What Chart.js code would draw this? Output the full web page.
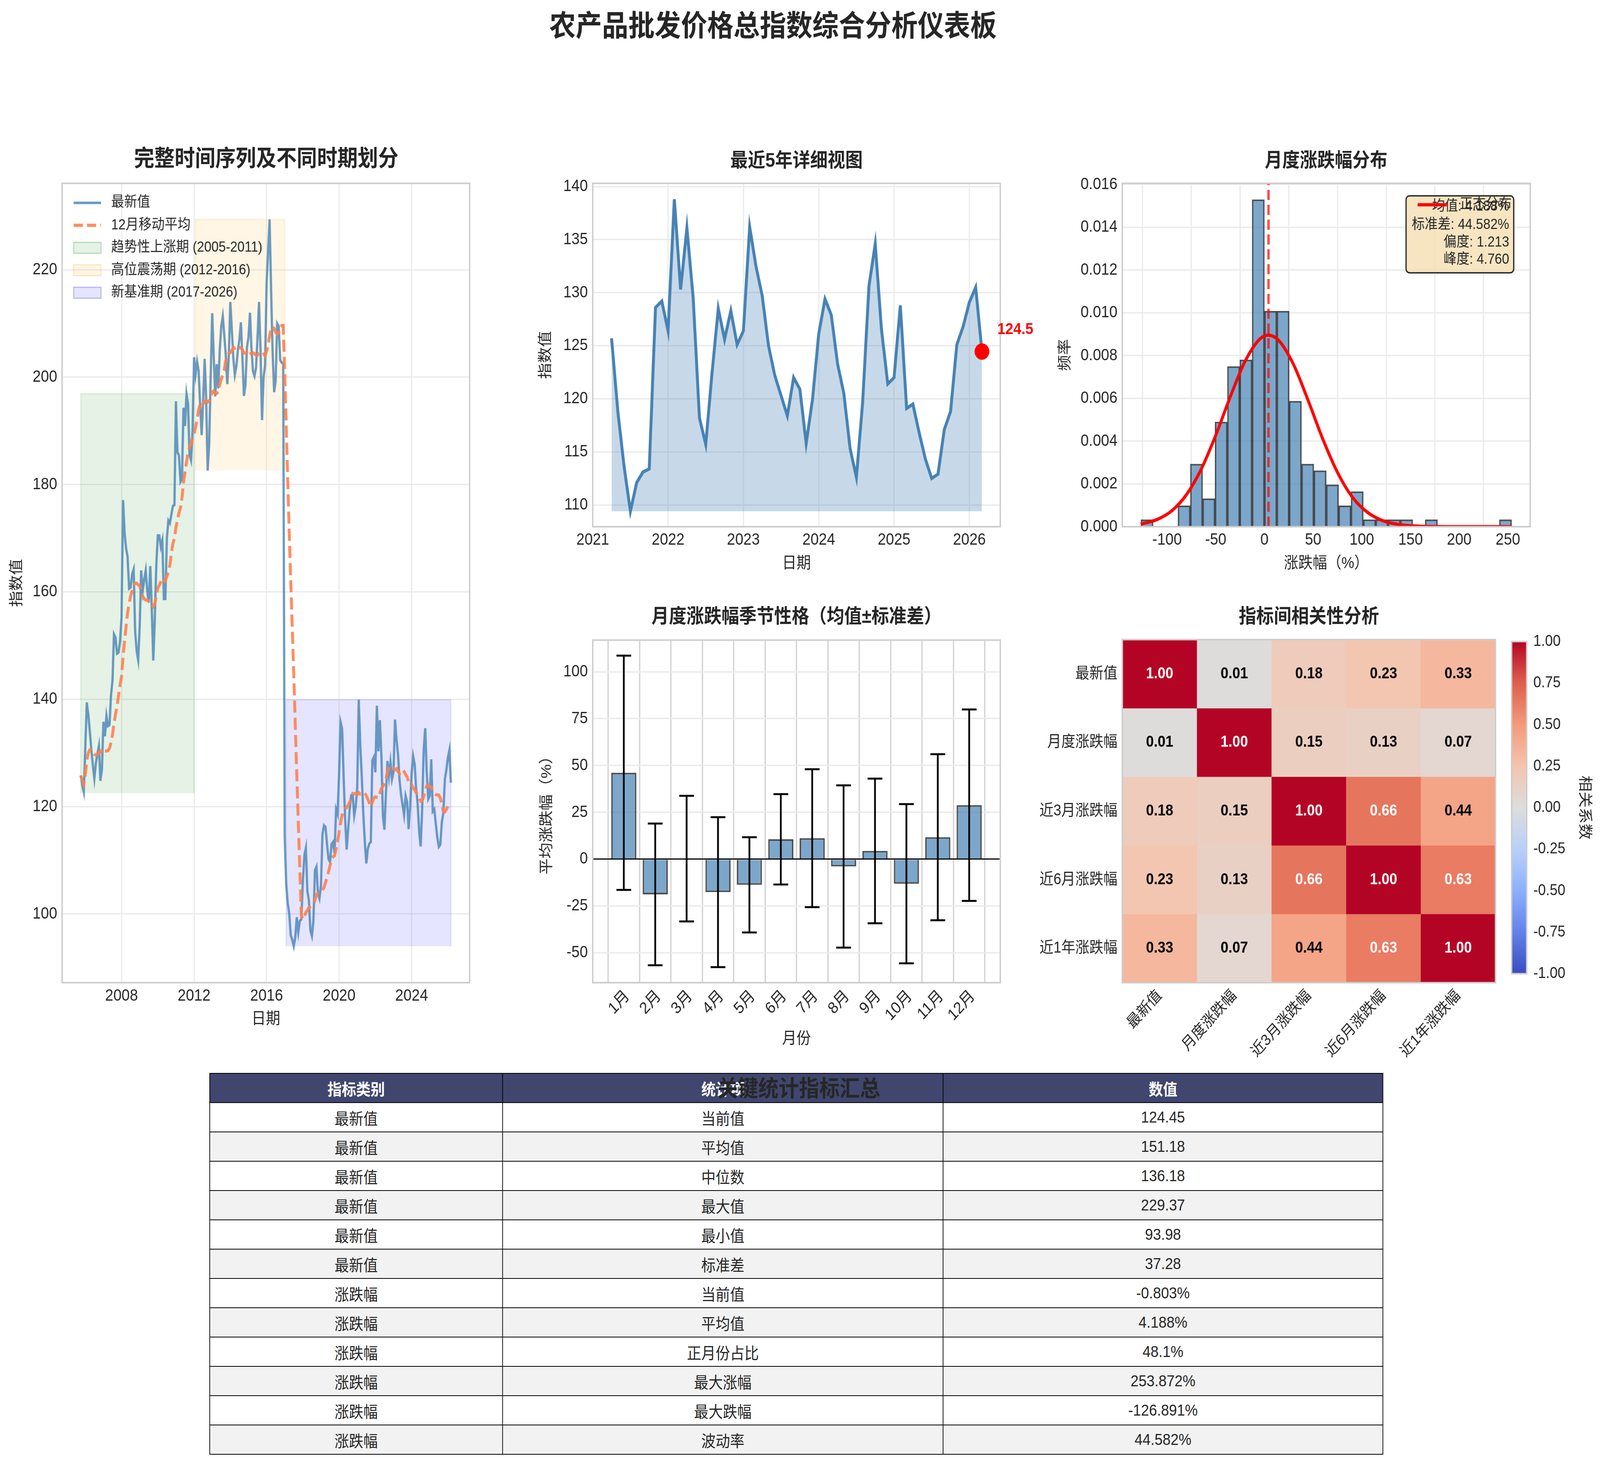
<!DOCTYPE html>
<html lang="zh-CN">
<head>
<meta charset="UTF-8">
<title>农产品批发价格总指数综合分析仪表板</title>
<script src="https://cdn.jsdelivr.net/npm/chart.js@4.4.1/dist/chart.umd.min.js"></script>
<style>
  html, body { margin: 0; padding: 0; background: #fff; overflow: hidden; }
  #wrap { position: relative; overflow: hidden; width: 4562px; height: 3752px; }
  #page { position: absolute; left: 0; top: 0; width: 4562px; height: 3752px; background: #fff; transform-origin: 0 0;
          font-family: 'Liberation Sans', 'Noto Sans CJK SC', sans-serif; color: #262626; }
  canvas { position: absolute; }
  .ttl { position: absolute; font-weight: bold; white-space: nowrap; line-height: 1; transform: translate(-50%, -50%); z-index: 5; }
  #stats { position: absolute; left: 597px; top: 2746px; width: 3345px; border-collapse: collapse; table-layout: fixed; font-size: 41px; }
  #stats th, #stats td { border: 2.5px solid #000; height: 73px; padding: 0; text-align: center; }
  #stats th { background: #40466e; color: #fff; font-weight: bold; }
  #stats tbody tr:nth-child(even) td { background: #f2f2f2; }
</style>
</head>
<body>
<div id="wrap">
<div id="page">
  <div class="ttl" style="left:2204px; top:66px; font-size:75px;">农产品批发价格总指数综合分析仪表板</div>
  <div class="ttl" style="left:759px; top:405px; font-size:58px;">完整时间序列及不同时期划分</div>
  <div class="ttl" style="left:2271px; top:410px; font-size:50px;">最近5年详细视图</div>
  <div class="ttl" style="left:3781px; top:410px; font-size:50px;">月度涨跌幅分布</div>
  <div class="ttl" style="left:2271px; top:1577px; font-size:50px;">月度涨跌幅季节性格（均值±标准差）</div>
  <div class="ttl" style="left:3732px; top:1577px; font-size:50px;">指标间相关性分析</div>

  <canvas id="fullChart"></canvas>
  <canvas id="recentChart"></canvas>
  <canvas id="histChart"></canvas>
  <canvas id="seasonChart"></canvas>
  <canvas id="corrChart"></canvas>
  <canvas id="cbarChart"></canvas>

  <table id="stats">
    <colgroup><col style="width:835px"><col style="width:1256px"><col style="width:1254px"></colgroup>
    <thead><tr><th>指标类别</th><th>统计项</th><th>数值</th></tr></thead>
    <tbody></tbody>
  </table>
  <div class="ttl" style="left:2278px; top:2786px; font-size:58px;">关键统计指标汇总</div>
</div>
</div>

<script>
// ---- 数据 ----
// 月度指数（月末），2005-09 起，共 246 个月
const firstYear = 2005, firstMonth = 9;
const indexValues = [
  125.8, 124.0, 122.7, 131.0, 139.4, 137.1, 134.0, 130.6, 127.7, 125.2,
  128.1, 129.8, 131.3, 124.8, 126.9, 135.8, 133.1, 136.9, 135.0, 135.2,
  140.6, 143.5, 152.1, 151.5, 148.5, 148.7, 150.8, 155.2, 177.1, 171.0,
  168.1, 166.5, 160.6, 160.8, 163.3, 164.2, 152.7, 149.0, 147.3, 153.5,
  164.0, 160.2, 162.3, 164.0, 160.2, 158.1, 164.8, 157.0, 147.2, 155.0,
  165.0, 170.5, 170.5, 168.4, 169.6, 158.7, 158.7, 170.0, 173.3, 172.8,
  174.5, 176.0, 176.2, 195.5, 186.0, 185.4, 180.5, 181.0, 194.3, 190.9,
  196.9, 195.0, 185.5, 184.5, 190.0, 203.7, 200.5, 202.9, 201.2, 195.0,
  189.2, 195.5, 203.4, 196.0, 182.6, 187.5, 200.0, 211.9, 204.0, 196.4,
  202.4, 197.9, 205.0, 209.5, 211.3, 207.8, 204.0, 198.7, 204.0, 214.0,
  208.8, 203.5, 200.4, 202.0, 205.0, 207.0, 210.2, 203.7, 196.5, 198.5,
  205.5, 207.4, 212.0, 205.3, 201.1, 200.2, 201.7, 207.3, 214.0, 204.8,
  192.0, 200.0, 202.2, 217.5, 223.4, 229.37, 216.0, 204.6, 197.2, 199.3,
  210.0, 209.5, 203.2, 202.7, 202.5, 114.4, 105.5, 102.0, 100.0, 96.0,
  95.2, 93.98, 95.7, 99.4, 96.6, 98.7, 99.0, 106.0, 110.9, 112.3,
  104.3, 102.5, 96.9, 95.9, 98.7, 108.1, 108.8, 103.9, 102.9, 105.3,
  114.9, 116.5, 116.2, 113.0, 110.2, 109.7, 113.0, 113.4, 111.3, 119.5,
  118.6, 126.3, 135.7, 134.5, 125.6, 117.6, 112.0, 115.8, 119.5, 122.1,
  122.1, 118.3, 120.0, 123.5, 139.9, 131.5,
  125.7, 118.8, 113.6, 109.4, 112.1, 113.1, 113.4, 128.6, 129.2, 126.4,
  138.8, 130.3, 136.1, 129.5, 118.2, 115.7, 122.4, 128.5, 125.6, 128.3,
  125.1, 126.4, 136.2, 132.5, 129.7, 125.0, 122.2, 120.3, 118.4, 122.0,
  120.9, 115.8, 119.9, 126.1, 129.4, 127.9, 123.3, 120.5, 115.3, 112.6,
  119.7, 130.6, 134.6, 126.5, 121.4, 122.0, 128.8, 119.1, 119.5, 116.8,
  114.3, 112.5, 112.9, 117.1, 118.8, 125.1, 126.8, 129.1, 130.5, 124.45
];

// 时期划分 [起, 止, 最低, 最高]
const periodNames = ['趋势性上涨期 (2005-2011)', '高位震荡期 (2012-2016)', '新基准期 (2017-2026)'];
const periodSpans = [[2005.75, 2012.0, 122.5, 196.9], [2012.083, 2017.0, 182.6, 229.37], [2017.083, 2026.167, 93.98, 139.9]];

// 月度涨跌幅直方图（密度）
const binStart = -126.891, binWidth = 12.692;
const histDensity = [
  0.00033, 0, 0, 0.00098, 0.00293, 0.00131, 0.0049, 0.00749, 0.0078, 0.01529,
  0.01008, 0.01008, 0.00587, 0.00293, 0.00262, 0.00196, 0.00098, 0.00164, 0.00033, 0.00033,
  0.00033, 0.00033, 0, 0.00033, 0, 0, 0, 0, 0, 0.00033
];
const normX = [-127, -110, -95, -80, -65, -50, -35, -20, -5, 4, 15, 30, 45, 60, 75, 90, 105, 120, 140, 170, 210, 254];
const normY = [0.00012, 0.00034, 0.00075, 0.0015, 0.00268, 0.00427, 0.00608, 0.00772, 0.00876, 0.00895, 0.00869,
  0.00757, 0.00589, 0.00409, 0.00254, 0.0014, 0.0007, 0.00031, 0.00009, 0.00001, 0, 0];
const meanChange = 4.188;
const statLines = ['均值: 4.188%', '标准差: 44.582%', '偏度: 1.213', '峰度: 4.760'];

// 季节性
const monthLabels = ['1月', '2月', '3月', '4月', '5月', '6月', '7月', '8月', '9月', '10月', '11月', '12月'];
const monthMeans = [46.1, -18.8, 0.3, -17.6, -13.7, 10.6, 11.2, -3.9, 4.4, -13.1, 11.7, 28.8];
const monthStds = [62.5, 37.8, 33.5, 40.0, 25.4, 24.1, 36.8, 43.3, 38.6, 42.5, 44.3, 51.1];

// 相关系数
const corrLabels = ['最新值', '月度涨跌幅', '近3月涨跌幅', '近6月涨跌幅', '近1年涨跌幅'];
const corrMatrix = [
  [1.00, 0.01, 0.18, 0.23, 0.33],
  [0.01, 1.00, 0.15, 0.13, 0.07],
  [0.18, 0.15, 1.00, 0.66, 0.44],
  [0.23, 0.13, 0.66, 1.00, 0.63],
  [0.33, 0.07, 0.44, 0.63, 1.00]
];

// 统计表
const statCategory = ['最新值', '最新值', '最新值', '最新值', '最新值', '最新值', '涨跌幅', '涨跌幅', '涨跌幅', '涨跌幅', '涨跌幅', '涨跌幅'];
const statItem = ['当前值', '平均值', '中位数', '最大值', '最小值', '标准差', '当前值', '平均值', '正月份占比', '最大涨幅', '最大跌幅', '波动率'];
const statValue = ['124.45', '151.18', '136.18', '229.37', '93.98', '37.28', '-0.803%', '4.188%', '48.1%', '253.872%', '-126.891%', '44.582%'];

// ---- 页面缩放到窗口 ----
const PAGE_W = 4562, PAGE_H = 3752;
const sx = window.innerWidth / PAGE_W, sy = window.innerHeight / PAGE_H;
document.getElementById('page').style.transform = 'scale(' + sx + ',' + sy + ')';
document.getElementById('wrap').style.width = PAGE_W * sx + 'px';
document.getElementById('wrap').style.height = PAGE_H * sy + 'px';

// ---- 通用设置 ----
const FONT = "'Liberation Sans', 'Noto Sans CJK SC', sans-serif";
Chart.defaults.font.family = FONT;
Chart.defaults.font.size = 42;
Chart.defaults.color = '#262626';
Chart.defaults.animation = false;
Chart.defaults.events = [];
Chart.defaults.plugins.legend.display = false;
Chart.defaults.plugins.tooltip.enabled = false;

const lightGrid = { color: '#ebebeb', lineWidth: 3.5, drawTicks: false };

function place(id, left, top, width, height) {
  const c = document.getElementById(id);
  c.width = width; c.height = height;
  c.style.left = left + 'px'; c.style.top = top + 'px';
  c.style.width = width + 'px'; c.style.height = height + 'px';
  return c;
}
function fixW(w) { return s => { s.width = w; }; }
function fixH(h) { return s => { s.height = h; }; }
function setTicks(vals) { return s => { s.ticks = vals.map(v => ({ value: v })); }; }

const framePlugin = {
  id: 'frame',
  afterDraw(chart) {
    const { ctx, chartArea: a } = chart;
    ctx.save();
    ctx.strokeStyle = '#cccccc';
    ctx.lineWidth = 4;
    ctx.strokeRect(a.left, a.top, a.right - a.left, a.bottom - a.top);
    ctx.restore();
  }
};

const coolwarm = [[0, [59, 76, 192]], [0.125, [98, 130, 234]], [0.25, [141, 176, 254]], [0.375, [184, 208, 249]],
  [0.5, [221, 221, 221]], [0.625, [245, 196, 173]], [0.75, [244, 154, 123]], [0.875, [222, 96, 77]], [1, [180, 4, 38]]];
function cmap(v) {
  const t = Math.max(0, Math.min(1, (v + 1) / 2));
  for (let i = 1; i < coolwarm.length; i++) {
    if (t <= coolwarm[i][0]) {
      const [t0, c0] = coolwarm[i - 1], [t1, c1] = coolwarm[i];
      const f = (t - t0) / (t1 - t0);
      return 'rgb(' + c0.map((c, k) => Math.round(c + (c1[k] - c) * f)).join(',') + ')';
    }
  }
  return 'rgb(180,4,38)';
}

const monthX = indexValues.map((_, i) => firstYear + (firstMonth + i) / 12);

// 12月移动平均（min_periods=1）
const ma12 = indexValues.map((_, i) => {
  const s = indexValues.slice(Math.max(0, i - 11), i + 1);
  return s.reduce((a, b) => a + b, 0) / s.length;
});

// ---- 图1：完整时间序列 ----
const bandFill = ['rgba(0,128,0,0.1)', 'rgba(255,165,0,0.1)', 'rgba(0,0,255,0.1)'];
const bandEdge = ['rgba(0,128,0,0.12)', 'rgba(255,165,0,0.15)', 'rgba(0,0,255,0.12)'];
const bandLegendEdge = ['rgba(0,128,0,0.25)', 'rgba(255,165,0,0.25)', 'rgba(0,0,255,0.25)'];

const fullLegend = {
  id: 'fullLegend',
  afterDraw(chart) {
    const { ctx, chartArea: a } = chart;
    ctx.save();
    ctx.font = '37px ' + FONT;
    ctx.textBaseline = 'middle';
    const x0 = a.left + 33, x1 = a.left + 111, tx = a.left + 140;
    const labels = ['最新值', '12月移动平均'].concat(periodNames);
    labels.forEach((lab, i) => {
      const y = a.top + 50 + i * 57.5;
      if (i === 0) {
        ctx.strokeStyle = 'rgba(70,130,180,0.8)'; ctx.lineWidth = 6.5; ctx.setLineDash([]);
        ctx.beginPath(); ctx.moveTo(x0, y); ctx.lineTo(x1, y); ctx.stroke();
      } else if (i === 1) {
        ctx.strokeStyle = 'rgba(255,127,80,0.9)'; ctx.lineWidth = 8.3; ctx.setLineDash([26, 12]);
        ctx.beginPath(); ctx.moveTo(x0, y); ctx.lineTo(x1, y); ctx.stroke();
        ctx.setLineDash([]);
      } else {
        ctx.fillStyle = bandFill[i - 2];
        ctx.fillRect(x0, y - 14, x1 - x0, 28);
        ctx.strokeStyle = bandLegendEdge[i - 2]; ctx.lineWidth = 3;
        ctx.strokeRect(x0, y - 14, x1 - x0, 28);
      }
      ctx.fillStyle = '#262626';
      ctx.fillText(lab, tx, y);
    });
    ctx.restore();
  }
};

const bandSets = periodSpans.map((p, i) => ({
  type: 'line',
  data: [{ x: p[0], y: p[2] }, { x: p[0], y: p[3] }, { x: p[1], y: p[3] }, { x: p[1], y: p[2] }],
  borderColor: bandEdge[i], borderWidth: 3, backgroundColor: bandFill[i],
  fill: { value: p[2] }, pointRadius: 0, order: 3
}));

place('fullChart', 24, 430, 1335, 2203);
new Chart(document.getElementById('fullChart'), {
  type: 'line',
  data: {
    datasets: bandSets.concat([
      { data: monthX.map((x, i) => ({ x, y: indexValues[i] })), borderColor: 'rgba(70,130,180,0.8)',
        borderWidth: 6.5, pointRadius: 0, tension: 0, order: 2 },
      { data: monthX.map((x, i) => ({ x, y: ma12[i] })), borderColor: 'rgba(255,127,80,0.9)',
        borderWidth: 8.3, borderDash: [31, 13], pointRadius: 0, tension: 0, order: 1 }
    ])
  },
  options: {
    responsive: false, devicePixelRatio: 1,
    layout: { padding: { top: 20, right: 20, left: 0, bottom: 0 } },
    scales: {
      x: { type: 'linear', min: 2004.72, max: 2027.2, border: { display: false }, grid: lightGrid,
           afterBuildTicks: setTicks([2008, 2012, 2016, 2020, 2024]), afterFit: fixH(118),
           ticks: { padding: 9, callback: v => String(v) },
           title: { display: true, text: '日期', padding: 0, font: { size: 41 } } },
      y: { min: 87.2, max: 236.1, border: { display: false }, grid: lightGrid,
           afterBuildTicks: setTicks([100, 120, 140, 160, 180, 200, 220]), afterFit: fixW(153),
           ticks: { padding: 14, callback: v => String(v) },
           title: { display: true, text: '指数值', padding: 0, font: { size: 41 } } }
    }
  },
  plugins: [framePlugin, fullLegend]
});

// ---- 图2：最近5年 ----
const recentX = monthX.slice(-60);
const recentY = indexValues.slice(-60);
const recentBase = Math.min(...recentY);
const lastX = recentX[recentX.length - 1], lastY = recentY[recentY.length - 1];

const lastLabel = {
  id: 'lastLabel',
  afterDraw(chart) {
    const { ctx, scales: { x, y } } = chart;
    const px = x.getPixelForValue(lastX), py = y.getPixelForValue(lastY);
    ctx.save();
    ctx.font = 'bold 41px ' + FONT;
    ctx.fillStyle = 'red';
    ctx.textBaseline = 'middle';
    ctx.fillText(lastY.toFixed(1), px + 44, py - 56);
    ctx.restore();
  }
};

place('recentChart', 1532, 430, 1458, 1037);
new Chart(document.getElementById('recentChart'), {
  type: 'line',
  data: {
    datasets: [
      { data: [{ x: lastX, y: lastY }], showLine: false, pointRadius: 21, pointBackgroundColor: 'red',
        pointBorderWidth: 0, order: 0 },
      { data: recentX.map((x, i) => ({ x, y: recentY[i] })), borderColor: '#4682b4', borderWidth: 8.3,
        backgroundColor: 'rgba(70,130,180,0.3)', fill: { value: recentBase }, pointRadius: 0, tension: 0, order: 1 }
    ]
  },
  options: {
    responsive: false, devicePixelRatio: 1,
    layout: { padding: { top: 20, right: 138, left: 0, bottom: 0 } },
    scales: {
      x: { type: 'linear', min: 2021.0, max: 2026.41, border: { display: false }, grid: lightGrid,
           afterBuildTicks: setTicks([2021, 2022, 2023, 2024, 2025, 2026]), afterFit: fixH(119),
           ticks: { padding: 9, callback: v => String(v) },
           title: { display: true, text: '日期', padding: 0, font: { size: 41 } } },
      y: { min: 107.95, max: 140.3, border: { display: false }, grid: lightGrid,
           afterBuildTicks: setTicks([110, 115, 120, 125, 130, 135, 140]), afterFit: fixW(158),
           ticks: { padding: 14, callback: v => String(v) },
           title: { display: true, text: '指数值', padding: 0, font: { size: 41 } } }
    }
  },
  plugins: [framePlugin, lastLabel]
});

// ---- 图3：涨跌幅分布 ----
const histOverlay = {
  id: 'histOverlay',
  afterDraw(chart) {
    const { ctx, chartArea: a } = chart;
    ctx.save();
    // 统计信息框
    const bx = a.right - 354, by = a.top + 32, bw = 307, bh = 197;
    ctx.fillStyle = 'rgba(245,222,179,0.8)';
    ctx.strokeStyle = '#262626';
    ctx.lineWidth = 3.5;
    ctx.beginPath();
    ctx.roundRect(bx, by, bw, bh, 10);
    ctx.fill(); ctx.stroke();
    ctx.font = '37px ' + FONT;
    ctx.fillStyle = '#262626';
    ctx.textAlign = 'right';
    ctx.textBaseline = 'middle';
    [28, 75, 120, 164].forEach((dy, i) => ctx.fillText(statLines[i], bx + bw - 13, by + dy));
    // 图例
    const ly = a.top + 55;
    ctx.strokeStyle = 'red'; ctx.lineWidth = 8.3;
    ctx.beginPath(); ctx.moveTo(a.right - 321, ly); ctx.lineTo(a.right - 238, ly); ctx.stroke();
    ctx.textAlign = 'left';
    ctx.fillStyle = '#262626';
    ctx.fillText('正态分布', a.right - 201, ly);
    ctx.restore();
  }
};

place('histChart', 3013, 430, 1370, 1037);
new Chart(document.getElementById('histChart'), {
  type: 'bar',
  data: {
    datasets: [
      { type: 'line', data: normX.map((x, i) => ({ x, y: normY[i] })), borderColor: 'red', borderWidth: 8.3,
        pointRadius: 0, cubicInterpolationMode: 'monotone', order: 1 },
      { type: 'line', data: [{ x: meanChange, y: 0 }, { x: meanChange, y: 0.01605 }], borderColor: 'rgba(255,0,0,0.7)',
        borderWidth: 7, borderDash: [26, 12], pointRadius: 0, order: 0 },
      { type: 'bar', data: histDensity.map((d, i) => ({ x: binStart + binWidth * (i + 0.5), y: d })),
        backgroundColor: 'rgba(70,130,180,0.7)', borderColor: 'rgba(0,0,0,0.7)', borderWidth: 3.5,
        barPercentage: 1, categoryPercentage: 1, grouped: false, order: 2 }
    ]
  },
  options: {
    responsive: false, devicePixelRatio: 1,
    layout: { padding: { top: 20, right: 20, left: 0, bottom: 0 } },
    scales: {
      x: { type: 'linear', offset: false, min: -145.9, max: 272.9, border: { display: false }, grid: lightGrid,
           afterBuildTicks: setTicks([-100, -50, 0, 50, 100, 150, 200, 250]), afterFit: fixH(119),
           ticks: { padding: 9, callback: v => String(v) },
           title: { display: true, text: '涨跌幅（%）', padding: 0, font: { size: 41 } } },
      y: { min: 0, max: 0.01605, border: { display: false }, grid: lightGrid,
           afterBuildTicks: setTicks([0, 0.002, 0.004, 0.006, 0.008, 0.010, 0.012, 0.014, 0.016]), afterFit: fixW(187),
           ticks: { padding: 14, callback: v => v.toFixed(3) },
           title: { display: true, text: '频率', padding: 0, font: { size: 41 } } }
    }
  },
  plugins: [framePlugin, histOverlay]
});

// ---- 图4：季节性 ----
const errorBars = {
  id: 'errorBars',
  afterDatasetsDraw(chart) {
    const { ctx, scales: { x, y } } = chart;
    ctx.save();
    ctx.strokeStyle = '#000';
    ctx.lineWidth = 5;
    monthMeans.forEach((m, i) => {
      const px = x.getPixelForValue(i);
      const top = y.getPixelForValue(m + monthStds[i]);
      const bot = y.getPixelForValue(m - monthStds[i]);
      ctx.beginPath();
      ctx.moveTo(px, top); ctx.lineTo(px, bot);
      ctx.moveTo(px - 21, top); ctx.lineTo(px + 21, top);
      ctx.moveTo(px - 21, bot); ctx.lineTo(px + 21, bot);
      ctx.stroke();
    });
    ctx.restore();
  }
};

place('seasonChart', 1535, 1599, 1337, 1085);
new Chart(document.getElementById('seasonChart'), {
  type: 'bar',
  data: {
    datasets: [{ data: monthMeans.map((m, i) => ({ x: i, y: m })), backgroundColor: 'rgba(70,130,180,0.7)',
                 borderColor: 'rgba(0,0,0,0.7)', borderWidth: 4, barPercentage: 0.8, categoryPercentage: 1 }]
  },
  options: {
    responsive: false, devicePixelRatio: 1,
    layout: { padding: { top: 20, right: 20, left: 0, bottom: 0 } },
    scales: {
      x: { type: 'linear', offset: false, min: -0.99, max: 11.99, border: { display: false },
           grid: { color: '#d0d0d0', lineWidth: 3.5, drawTicks: false },
           afterBuildTicks: setTicks(monthLabels.map((_, i) => i)), afterFit: fixH(169),
           ticks: { padding: 10, minRotation: 45, maxRotation: 45, autoSkip: false, labelOffset: 10,
                    callback: v => monthLabels[v] },
           title: { display: true, text: '月份', padding: 0, font: { size: 41 } } },
      y: { min: -65.9, max: 116.9, border: { display: false },
           grid: { drawTicks: false, color: c => (c.tick && c.tick.value === 0 ? '#000' : '#ebebeb'),
                   lineWidth: c => (c.tick && c.tick.value === 0 ? 3 : 3.5) },
           afterBuildTicks: setTicks([-50, -25, 0, 25, 50, 75, 100]), afterFit: fixW(155),
           ticks: { padding: 14, callback: v => String(v) },
           title: { display: true, text: '平均涨跌幅（%）', padding: 0, font: { size: 41 } } }
    }
  },
  plugins: [framePlugin, errorBars]
});

// ---- 图5：相关性热力图 ----
const cellText = {
  id: 'cellText',
  afterDraw(chart) {
    const { ctx, scales: { x, y } } = chart;
    ctx.save();
    ctx.font = 'bold 40px ' + FONT;
    ctx.textAlign = 'center';
    ctx.textBaseline = 'middle';
    corrMatrix.forEach((row, r) => row.forEach((v, c) => {
      ctx.fillStyle = Math.abs(v) > 0.5 ? '#fff' : '#000';
      ctx.fillText(v.toFixed(2), x.getPixelForValue(c), y.getPixelForValue(r + 0.5));
    }));
    ctx.restore();
  }
};

place('corrChart', 2900, 1599, 1384, 1131);
new Chart(document.getElementById('corrChart'), {
  type: 'bar',
  data: {
    labels: corrLabels,
    datasets: corrMatrix.map((row, r) => ({
      data: row.map(() => [r, r + 1]),
      backgroundColor: row.map(v => cmap(v)),
      borderColor: row.map(v => cmap(v)),
      borderWidth: 1, borderSkipped: false,
      barPercentage: 1, categoryPercentage: 1, grouped: false
    }))
  },
  options: {
    responsive: false, devicePixelRatio: 1,
    layout: { padding: { top: 20, right: 20, left: 0, bottom: 0 } },
    scales: {
      x: { z: 1, border: { display: false }, grid: { color: '#cccccc', lineWidth: 3.5, drawTicks: false, offset: false },
           afterFit: fixH(215),
           ticks: { padding: 10, minRotation: 45, maxRotation: 45, autoSkip: false, font: { size: 40 } } },
      y: { z: 1, min: 0, max: 5, reverse: true, border: { display: false },
           grid: { color: '#cccccc', lineWidth: 3.5, drawTicks: false },
           afterBuildTicks: setTicks([0.5, 1.5, 2.5, 3.5, 4.5]), afterFit: fixW(300),
           ticks: { padding: 14, font: { size: 40 }, callback: v => corrLabels[Math.floor(v)] } }
    }
  },
  plugins: [framePlugin, cellText]
});

// ---- 色条 ----
place('cbarChart', 4300, 1599, 242, 936);
new Chart(document.getElementById('cbarChart'), {
  type: 'bar',
  data: {
    labels: [''],
    datasets: [{
      data: [[-1, 1]], barPercentage: 1, categoryPercentage: 1, borderWidth: 0,
      backgroundColor: c => {
        const a = c.chart.chartArea;
        if (!a) return 'rgba(0,0,0,0)';
        const g = c.chart.ctx.createLinearGradient(0, a.bottom, 0, a.top);
        coolwarm.forEach(([t, rgb]) => g.addColorStop(t, 'rgb(' + rgb.join(',') + ')'));
        return g;
      }
    }]
  },
  options: {
    responsive: false, devicePixelRatio: 1,
    layout: { padding: { top: 20, right: 0, left: 10, bottom: 20 } },
    scales: {
      x: { display: false },
      y: { position: 'right', min: -1, max: 1, border: { display: false }, grid: { display: false, drawTicks: false },
           afterBuildTicks: setTicks([-1, -0.75, -0.5, -0.25, 0, 0.25, 0.5, 0.75, 1]), afterFit: fixW(189),
           ticks: { padding: 19, font: { size: 40 }, callback: v => v.toFixed(2) },
           title: { display: true, text: '相关系数', padding: 0, font: { size: 41 } } }
    }
  },
  plugins: [framePlugin]
});

// ---- 统计表 ----
const tbody = document.querySelector('#stats tbody');
statCategory.forEach((cat, i) => {
  const tr = document.createElement('tr');
  [cat, statItem[i], statValue[i]].forEach(t => {
    const td = document.createElement('td');
    td.textContent = t;
    tr.appendChild(td);
  });
  tbody.appendChild(tr);
});
</script>
</body>
</html>
